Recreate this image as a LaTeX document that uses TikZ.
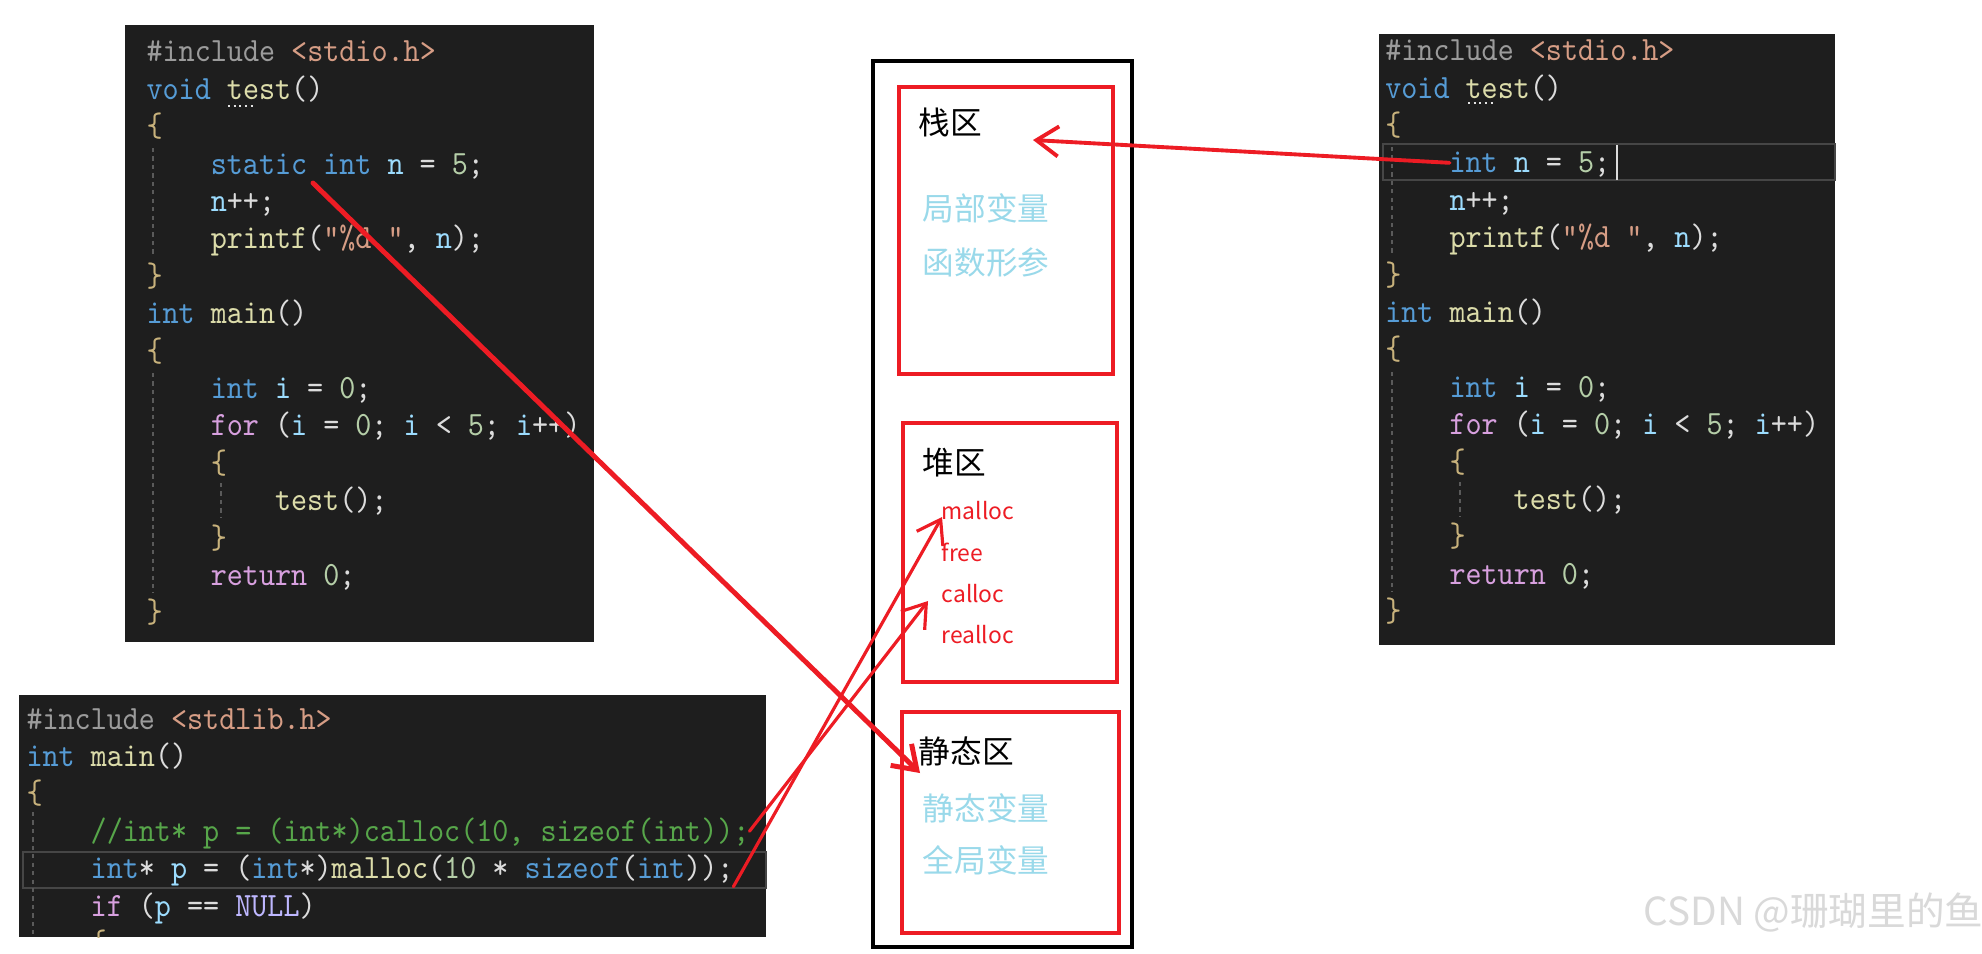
\documentclass[tikz,border=0pt]{standalone}
\usepackage{fontspec}
\newfontfamily\cjk{Noto Sans CJK SC}
\newfontfamily\codefont{lmmono10-regular.otf}[FakeStretch=0.9]
\usepackage{xcolor}
\usepackage{tikz}
\usetikzlibrary{arrows.meta,positioning}
\definecolor{codebg}{HTML}{1E1E1E}
\definecolor{codefg}{HTML}{DCDCDC}
\definecolor{vskey}{HTML}{569CD6}
\definecolor{vsctl}{HTML}{D8A0DF}
\definecolor{vsfunc}{HTML}{DCDCAA}
\definecolor{vsvar}{HTML}{9CDCFE}
\definecolor{vsnum}{HTML}{B5CEA8}
\definecolor{vsstr}{HTML}{D69D85}
\definecolor{vspre}{HTML}{9B9B9B}
\definecolor{vscom}{HTML}{57A64A}
\definecolor{vsmac}{HTML}{BEB7FF}
\definecolor{vsbrace}{HTML}{C8B27C}
\definecolor{guidegray}{HTML}{5A5A5A}
\definecolor{linegray}{HTML}{464646}
\definecolor{paintred}{HTML}{ED1C24}
\definecolor{paintblue}{HTML}{99D9EA}
\definecolor{markgray}{HTML}{D9D9D9}
\newcommand{\cpre}[1]{\textcolor{vspre}{#1}}
\newcommand{\cstr}[1]{\textcolor{vsstr}{#1}}
\newcommand{\ckey}[1]{\textcolor{vskey}{#1}}
\newcommand{\cctl}[1]{\textcolor{vsctl}{#1}}
\newcommand{\cfunc}[1]{\textcolor{vsfunc}{#1}}
\newcommand{\cvar}[1]{\textcolor{vsvar}{#1}}
\newcommand{\cnum}[1]{\textcolor{vsnum}{#1}}
\newcommand{\ccom}[1]{\textcolor{vscom}{#1}}
\newcommand{\cmac}[1]{\textcolor{vsmac}{#1}}
\newcommand{\cbr}[1]{\textcolor{vsbrace}{#1}}
\tikzset{
    codepanel/.style={fill=codebg,draw=none,inner sep=0pt,outer sep=0pt},
    codeline/.style={anchor=west,inner sep=0pt,outer sep=0pt,text=codefg,
      font=\codefont\fontsize{9.67}{11}\selectfont,text height=2.8mm,text depth=0.8mm},
    curline/.style={draw=linegray,line width=0.8pt},
    indentguide/.style={draw=guidegray,line width=0.4pt,dash pattern=on 1.2pt off 1.2pt},
    testdots/.style={draw=codefg!80,line width=0.6pt,dash pattern=on 0.6pt off 1pt},
    memcol/.style={draw=black,line width=1.15pt,inner sep=0pt},
    regionbox/.style={draw=paintred,line width=1.1pt,inner sep=0pt},
    regiontitle/.style={anchor=west,inner sep=0pt,font=\cjk\fontsize{9}{11}\selectfont,text=black},
    regionitem/.style={regiontitle,text=paintblue},
    allocitem/.style={anchor=west,inner sep=0pt,font=\cjk\fontsize{6.5}{8}\selectfont,text=paintred},
    redarrow/.style={draw=paintred,line width=1.1pt,line cap=round,line join=round,
      -{Straight Barb[length=2.2mm,width=3mm]}},
    watermark/.style={anchor=west,inner sep=0pt,font=\cjk\fontsize{11}{13}\selectfont,text=markgray}
}

\begin{document}
\begin{tikzpicture}[x=0.01cm,y=-0.01cm]
  \useasboundingbox[fill=white] (0,0) rectangle (1982,953);

  % left code window
  \node[codepanel,minimum width=4.69cm,minimum height=6.17cm] (tlpanel) at (359.5,333.5) {};
  \draw[indentguide] (153,148) -- (153,257);
  \draw[indentguide] (153,373) -- (153,593);
  \draw[indentguide] (221,483) -- (221,517);
  \node[codeline] (tl1) at (146.6,51.8) {\cpre{\#include} \cstr{<stdio.h>}};
  \node[codeline] (tl2) at (146.6,89.2) {\ckey{void} \cfunc{test}()};
  \node[codeline] (tl3) at (146.6,126.6) {\cbr{\{}};
  \node[codeline] (tl4) at (210.8,164.0) {\ckey{static} \ckey{int} \cvar{n} = \cnum{5};};
  \node[codeline] (tl5) at (210.8,201.4) {\cvar{n}++;};
  \node[codeline] (tl6) at (210.8,238.8) {\cfunc{printf}(\cstr{"\%d "}, \cvar{n});};
  \node[codeline] (tl7) at (146.6,276.2) {\cbr{\}}};
  \node[codeline] (tl8) at (146.6,313.6) {\ckey{int} \cfunc{main}()};
  \node[codeline] (tl9) at (146.6,351.0) {\cbr{\{}};
  \node[codeline] (tl10) at (210.8,388.4) {\ckey{int} \cvar{i} = \cnum{0};};
  \node[codeline] (tl11) at (210.8,425.8) {\cctl{for} (\cvar{i} = \cnum{0}; \cvar{i} < \cnum{5}; \cvar{i}++)};
  \node[codeline] (tl12) at (210.8,463.2) {\cbr{\{}};
  \node[codeline] (tl13) at (275.0,500.6) {\cfunc{test}();};
  \node[codeline] (tl14) at (210.8,538.0) {\cbr{\}}};
  \node[codeline] (tl15) at (210.8,575.4) {\cctl{return} \cnum{0};};
  \node[codeline] (tl16) at (146.6,612.8) {\cbr{\}}};
  \draw[testdots] (228,106) -- (256,106);

  % right code window
  \node[codepanel,minimum width=4.56cm,minimum height=6.11cm] (rtpanel) at (1607,339.5) {};
  \draw[curline] (1383,144) rectangle (1835,180);
  \draw[indentguide] (1392,147) -- (1392,256);
  \draw[indentguide] (1392,372) -- (1392,592);
  \draw[indentguide] (1460,482) -- (1460,516);
  \node[codeline] (rt1) at (1385.3,50.6) {\cpre{\#include} \cstr{<stdio.h>}};
  \node[codeline] (rt2) at (1385.3,88.0) {\ckey{void} \cfunc{test}()};
  \node[codeline] (rt3) at (1385.3,125.4) {\cbr{\{}};
  \node[codeline] (rt4) at (1449.5,162.8) {\ckey{int} \cvar{n} = \cnum{5};};
  \node[codeline] (rt5) at (1449.5,200.2) {\cvar{n}++;};
  \node[codeline] (rt6) at (1449.5,237.6) {\cfunc{printf}(\cstr{"\%d "}, \cvar{n});};
  \node[codeline] (rt7) at (1385.3,275.0) {\cbr{\}}};
  \node[codeline] (rt8) at (1385.3,312.4) {\ckey{int} \cfunc{main}()};
  \node[codeline] (rt9) at (1385.3,349.8) {\cbr{\{}};
  \node[codeline] (rt10) at (1449.5,387.2) {\ckey{int} \cvar{i} = \cnum{0};};
  \node[codeline] (rt11) at (1449.5,424.6) {\cctl{for} (\cvar{i} = \cnum{0}; \cvar{i} < \cnum{5}; \cvar{i}++)};
  \node[codeline] (rt12) at (1449.5,462.0) {\cbr{\{}};
  \node[codeline] (rt13) at (1513.7,499.4) {\cfunc{test}();};
  \node[codeline] (rt14) at (1449.5,536.8) {\cbr{\}}};
  \node[codeline] (rt15) at (1449.5,574.2) {\cctl{return} \cnum{0};};
  \node[codeline] (rt16) at (1385.3,611.6) {\cbr{\}}};
  \draw[testdots] (1468,103) -- (1495,103);
  \draw[draw=codefg,line width=0.5pt] (1617,145) -- (1617,180);

  % bottom code window
  \node[codepanel,minimum width=7.47cm,minimum height=2.42cm] (blpanel) at (392.5,816) {};
  \draw[curline] (23,852) rectangle (766,888);
  \node[codeline] (bl1) at (26.5,719.0) {\cpre{\#include} \cstr{<stdlib.h>}};
  \node[codeline] (bl2) at (26.5,756.4) {\ckey{int} \cfunc{main}()};
  \node[codeline] (bl3) at (26.5,793.8) {\cbr{\{}};
  \node[codeline] (bl4) at (90.7,831.2) {\ccom{//int* p = (int*)calloc(10, sizeof(int));}};
  \node[codeline] (bl5) at (90.7,868.6) {\ckey{int}* \cvar{p} = (\ckey{int}*)\cfunc{malloc}(\cnum{10} * \ckey{sizeof}(\ckey{int}));};
  \node[codeline] (bl6) at (90.7,906.0) {\cctl{if} (\cvar{p} == \cmac{NULL})};
  \begin{scope}
    \clip (19,695) rectangle (766,937);
    \draw[indentguide] (33,812) -- (33,940);
    \node[codeline] (bl7) at (90.7,943.4) {\cbr{\{}};
  \end{scope}

  % memory layout
  \node[memcol,minimum width=2.59cm,minimum height=8.86cm] (mem) at (1002.5,504) {};
  \node[regionbox,minimum width=2.14cm,minimum height=2.87cm] (stackbox) at (1006,230.5) {};
  \node[regionbox,minimum width=2.14cm,minimum height=2.59cm] (heapbox) at (1010,552.5) {};
  \node[regionbox,minimum width=2.17cm,minimum height=2.21cm] (staticbox) at (1010.5,822.5) {};

  \node[regiontitle] (stacklbl) at (918,122) {栈区};
  \node[regionitem] (localvar) at (922,208) {局部变量};
  \node[regionitem] (funcparam) at (922,262) {函数形参};
  \node[regiontitle] (heaplbl) at (922,463) {堆区};
  \node[allocitem] (mallocfn) at (941,511) {malloc};
  \node[allocitem] (freefn) at (941,552) {free};
  \node[allocitem] (callocfn) at (941,594) {calloc};
  \node[allocitem] (reallocfn) at (941,635) {realloc};
  \node[regiontitle] (staticlbl) at (918,751) {静态区};
  \node[regionitem] (staticvar) at (922,808) {静态变量};
  \node[regionitem] (globalvar) at (922,860) {全局变量};

  % red arrows
  \coordinate (stacktip) at (1033,140);
  \coordinate (staticsrc) at (313,183);
  \coordinate (statictip) at (920,773);
  \coordinate (malloctip) at (942,517);
  \coordinate (calloctip) at (928,601);
  \draw[redarrow] (rt4.west) -- (stacktip);
  \draw[redarrow,line width=1.4pt] (staticsrc) -- (statictip);
  \draw[redarrow,line width=0.9pt] (bl5.south east) -- (malloctip);
  \draw[redarrow,line width=0.9pt] (bl4.east) -- (calloctip);

  \node[watermark] (csdn) at (1643,912) {CSDN @珊瑚里的鱼};
\end{tikzpicture}
\end{document}
